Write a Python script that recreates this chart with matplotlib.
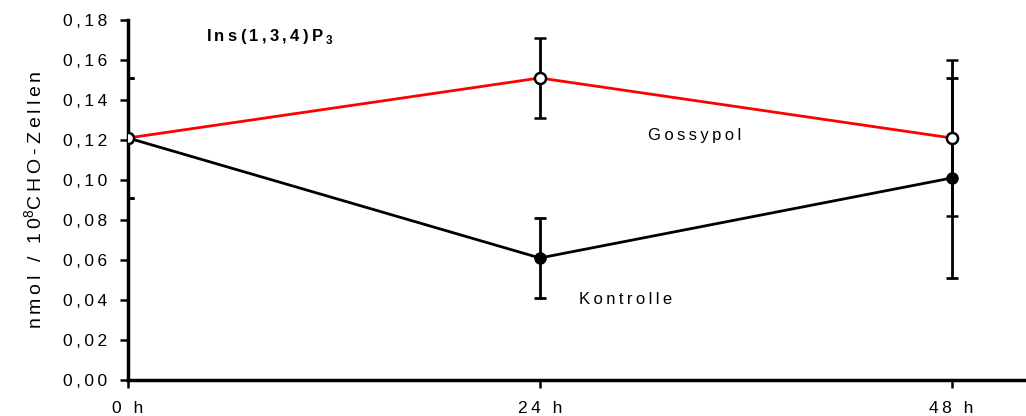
import matplotlib.pyplot as plt
from matplotlib.ticker import FuncFormatter

plt.rcParams['font.family'] = ['Liberation Sans', 'DejaVu Sans']
plt.rcParams['mathtext.fontset'] = 'custom'
plt.rcParams['mathtext.rm'] = 'Liberation Sans'
plt.rcParams['mathtext.bf'] = 'Liberation Sans:bold'

hours = [0, 24, 48]
hour_labels = ['0 h', '24 h', '48 h']

gossypol = [0.121, 0.151, 0.121]
gossypol_err = [0.03, 0.020, 0.039]

kontrolle = [0.121, 0.061, 0.101]
kontrolle_err = [0.03, 0.020, 0.050]

THIN = '\u2009'


def spaced(s):
    # old-style wide letter spacing
    return THIN.join(s)


def main():
    fig = plt.figure(figsize=(10.26, 4.16), dpi=100)
    ax = fig.add_axes([0.1248, 0.0865, 0.873, 0.8655])

    ax.errorbar(hours, kontrolle, yerr=kontrolle_err, color='black', lw=2,
                ecolor='black', elinewidth=2, capsize=4.5, capthick=2,
                marker='o', markersize=8, markerfacecolor='black',
                markeredgecolor='black', zorder=3)
    ax.errorbar(hours, gossypol, yerr=gossypol_err, color='red', lw=2,
                ecolor='black', elinewidth=2, capsize=4.5, capthick=2,
                marker='o', markersize=8, markerfacecolor='white',
                markeredgecolor='black', markeredgewidth=1.8, zorder=4)

    ax.set_xlim(0, 52.2)
    ax.set_ylim(0, 0.18)
    ax.set_xticks(hours)
    ax.set_xticklabels([spaced(h) for h in hour_labels])
    ax.set_yticks([i * 0.02 for i in range(10)])
    ax.yaxis.set_major_formatter(
        FuncFormatter(lambda v, p: spaced(f'{v:.2f}'.replace('.', ','))))
    ax.tick_params(axis='both', direction='out', length=6, width=1.8, labelsize=12.5)
    ax.tick_params(axis='x', pad=9)
    ax.tick_params(axis='y', pad=9)

    for side in ('top', 'right'):
        ax.spines[side].set_visible(False)
    for side in ('left', 'bottom'):
        ax.spines[side].set_linewidth(2.5)
    for lbl in ax.get_xticklabels():
        lbl.set_clip_on(False)

    ax.set_ylabel(spaced('nmol / 10') + r'$^{8}$' + spaced('CHO-Zellen'),
                  fontsize=14, labelpad=12)

    ax.text(0.087, 0.955, spaced('Ins(1,3,4)P') + THIN + r'$_\mathbf{3}$',
            transform=ax.transAxes, fontsize=12, fontweight='bold', va='center')
    ax.text(0.581, 0.679, spaced('Gossypol'), transform=ax.transAxes,
            fontsize=12, va='center')
    ax.text(0.503, 0.224, spaced('Kontrolle'), transform=ax.transAxes,
            fontsize=12, va='center')

    fig.savefig('out.png', dpi=100)


if __name__ == '__main__':
    main()
